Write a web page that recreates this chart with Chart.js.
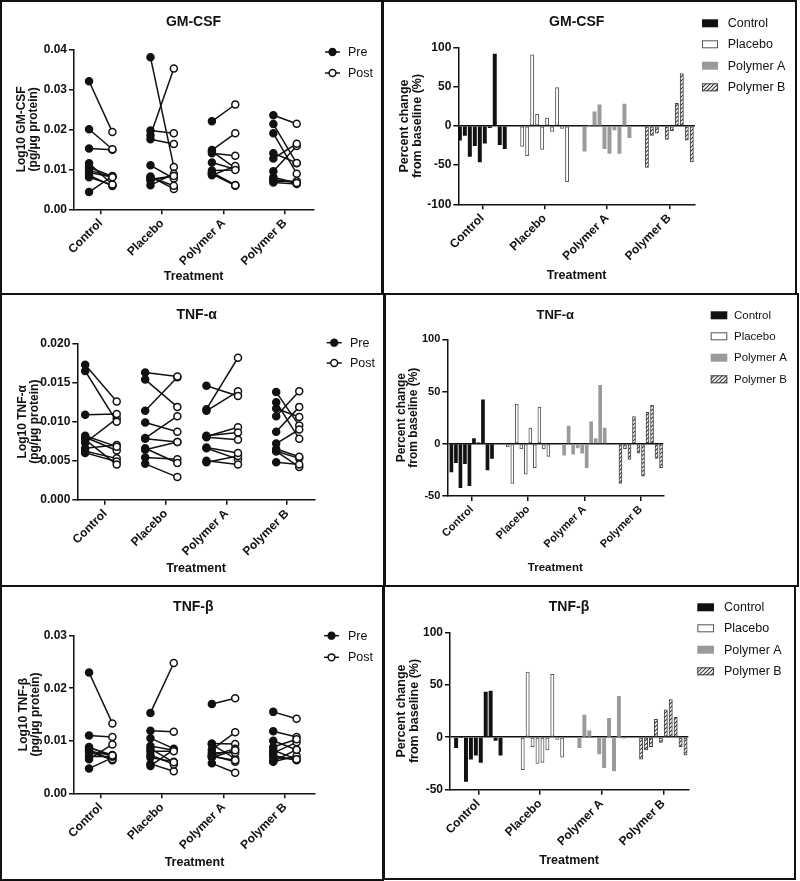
<!DOCTYPE html>
<html><head><meta charset="utf-8">
<script src="https://cdn.jsdelivr.net/npm/chart.js@4.4.1/dist/chart.umd.min.js"></script>
<style>
html,body{margin:0;padding:0;background:#fff;}
#wrap{position:relative;width:800px;height:881px;overflow:hidden;background:#fff;}
.box{position:absolute;border:2px solid #111;box-sizing:border-box;pointer-events:none;}
</style></head><body><div id="wrap"></div>
<script>
// ---------------- DATA ----------------
const categories = ['Control', 'Placebo', 'Polymer A', 'Polymer B'];
const seriesLine = ['Pre', 'Post'];

// GM-CSF (Log10 pg/µg protein), one row per treatment group
const gmcsfPre = [
  [0.0098, 0.0092, 0.0320, 0.0200, 0.0115, 0.0105, 0.0152, 0.0043, 0.0080, 0.0085],
  [0.0080, 0.0082, 0.0185, 0.0072, 0.0110, 0.0075, 0.0175, 0.0060, 0.0197, 0.0380],
  [0.0088, 0.0097, 0.0220, 0.0085, 0.0145, 0.0092, 0.0140, 0.0090, 0.0148, 0.0117],
  [0.0190, 0.0075, 0.0235, 0.0070, 0.0140, 0.0067, 0.0127, 0.0095, 0.0080, 0.0213]
];
const gmcsfPost = [
  [0.0080, 0.0081, 0.0193, 0.0150, 0.0062, 0.0082, 0.0149, 0.0083, 0.0061, 0.0058],
  [0.0059, 0.0051, 0.0352, 0.0083, 0.0077, 0.0083, 0.0163, 0.0089, 0.0190, 0.0106],
  [0.0060, 0.0098, 0.0262, 0.0108, 0.0103, 0.0061, 0.0134, 0.0059, 0.0190, 0.0100],
  [0.0089, 0.0066, 0.0214, 0.0070, 0.0116, 0.0063, 0.0164, 0.0158, 0.0066, 0.0115]
];
const gmcsfChange = [
  [-18, -12, -39, -25, -46, -22, -2, 92, -24, -29],
  [-26, -38, 91, 15, -30, 10, -7, 49, -3, -71],
  [-32, 1, 18, 27, -29, -35, -5, -35, 28, -15],
  [-53, -12, -9, 0, -17, -6, 29, 67, -18, -46]
];

// TNF-alpha
const tnfaPre = [
  [0.0173, 0.0082, 0.0077, 0.0060, 0.0165, 0.0066, 0.0109, 0.0073, 0.0080, 0.0062],
  [0.0163, 0.0046, 0.0114, 0.0078, 0.0066, 0.0064, 0.0154, 0.0079, 0.0054, 0.0099],
  [0.0067, 0.0048, 0.0050, 0.0080, 0.0146, 0.0066, 0.0114, 0.0082, 0.0116, 0.0081],
  [0.0125, 0.0048, 0.0065, 0.0072, 0.0117, 0.0138, 0.0107, 0.0087, 0.0062, 0.0062]
];
const tnfaPost = [
  [0.0126, 0.0068, 0.0045, 0.0049, 0.0100, 0.0070, 0.0110, 0.0104, 0.0063, 0.0053],
  [0.0158, 0.0029, 0.0157, 0.0074, 0.0047, 0.0074, 0.0119, 0.0107, 0.0052, 0.0087],
  [0.0060, 0.0056, 0.0045, 0.0077, 0.0133, 0.0052, 0.0139, 0.0086, 0.0182, 0.0093],
  [0.0078, 0.0045, 0.0055, 0.0090, 0.0106, 0.0095, 0.0139, 0.0119, 0.0053, 0.0042]
];
const tnfaChange = [
  [-27, -18, -42, -19, -40, 5, 1, 42, -25, -14],
  [-3, -38, 38, -5, -29, 15, -23, 35, -5, -12],
  [-11, 17, -10, -4, -9, -23, 21, 5, 56, 15],
  [-38, -5, -15, 26, -9, -31, 30, 37, -14, -23]
];

// TNF-beta
const tnfbPre = [
  [0.0080, 0.0070, 0.0230, 0.0088, 0.0078, 0.0083, 0.0065, 0.0047, 0.0110, 0.0087],
  [0.0080, 0.0085, 0.0153, 0.0090, 0.0073, 0.0056, 0.0068, 0.0052, 0.0119, 0.0105],
  [0.0070, 0.0068, 0.0170, 0.0077, 0.0072, 0.0093, 0.0072, 0.0057, 0.0083, 0.0095],
  [0.0082, 0.0072, 0.0155, 0.0088, 0.0068, 0.0077, 0.0061, 0.0060, 0.0118, 0.0100]
];
const tnfbPost = [
  [0.0072, 0.0070, 0.0133, 0.0070, 0.0065, 0.0063, 0.0093, 0.0068, 0.0107, 0.0073],
  [0.0080, 0.0059, 0.0248, 0.0082, 0.0055, 0.0042, 0.0060, 0.0083, 0.0117, 0.0085],
  [0.0063, 0.0082, 0.0181, 0.0077, 0.0060, 0.0066, 0.0085, 0.0039, 0.0116, 0.0094],
  [0.0065, 0.0063, 0.0142, 0.0103, 0.0065, 0.0097, 0.0083, 0.0071, 0.0107, 0.0083]
];
const tnfbChange = [
  [-10, 0, -42, -21, -17, -24, 43, 44, -3, -17],
  [0, -31, 62, -9, -25, -24, -12, 60, -2, -19],
  [-10, 21, 6, 0, -16, -29, 18, -32, 39, -1],
  [-21, -12, -9, 17, -5, 26, 36, 19, -9, -17]
];

// tick values / labels
const gmcsfTicks = [0, 0.01, 0.02, 0.03, 0.04];
const gmcsfTickLabels = ['0.00', '0.01', '0.02', '0.03', '0.04'];
const tnfaTicks = [0, 0.005, 0.010, 0.015, 0.020];
const tnfaTickLabels = ['0.000', '0.005', '0.010', '0.015', '0.020'];
const tnfbTicks = [0, 0.01, 0.02, 0.03];
const tnfbTickLabels = ['0.00', '0.01', '0.02', '0.03'];
const pctTicksWide = [-100, -50, 0, 50, 100];
const pctTicks = [-50, 0, 50, 100];

// ---------------- RENDERING ----------------
const FONT = '"Liberation Sans", Arial, Helvetica, sans-serif';
Chart.defaults.font.family = FONT;
Chart.defaults.color = '#111';
const INK = '#111';
const wrap = document.getElementById('wrap');

function makeCanvas(box) {
  const cv = document.createElement('canvas');
  cv.width = box.w; cv.height = box.h;
  cv.style.cssText = 'position:absolute;left:' + box.x + 'px;top:' + box.y + 'px;width:' + box.w + 'px;height:' + box.h + 'px;';
  wrap.appendChild(cv);
  return cv;
}
function makeHatch(ctx) {
  const c = document.createElement('canvas'); c.width = 4; c.height = 4;
  const g = c.getContext('2d');
  g.fillStyle = '#fff'; g.fillRect(0, 0, 4, 4);
  g.strokeStyle = '#333'; g.lineWidth = 1.1;
  g.beginPath();
  g.moveTo(0, 4); g.lineTo(4, 0);
  g.moveTo(-1, 1); g.lineTo(1, -1);
  g.moveTo(3, 5); g.lineTo(5, 3);
  g.stroke();
  return ctx.createPattern(c, 'repeat');
}

function geometry(c, tickFontSize, xTitleSize, yTitleSize) {
  const yLH = yTitleSize;            // lineHeight 1.0
  const xLH = xTitleSize;
  const padLeft = (c.yTitleX - c.box.x) - yLH / 2;
  const padTop = c.area.top - c.box.y;
  const padRight = c.box.x + c.box.w - c.area.right;
  const padBottom = (c.box.y + c.box.h) - (c.xTitleY + xLH / 2);
  const yW = (c.area.left - c.box.x) - padLeft;
  const xH = (c.box.y + c.box.h - padBottom) - c.area.bottom;
  return { padding: { left: padLeft, top: padTop, right: padRight, bottom: padBottom }, yW, xH };
}

function overlayPlugin(c, barStyles) {
  return {
    id: 'overlay' + Math.random().toString(36).slice(2),
    afterDraw(chart) {
      const ctx = chart.ctx, ox = c.box.x, oy = c.box.y;
      ctx.save();
      ctx.fillStyle = INK;
      ctx.font = 'bold ' + c.titleSize + 'px ' + FONT;
      ctx.textAlign = 'center'; ctx.textBaseline = 'middle';
      ctx.fillText(c.title, c.titleX - ox, c.titleY - oy);
      ctx.font = c.legendSize + 'px ' + FONT;
      ctx.textAlign = 'left';
      c.legendItems.forEach((txt, k) => {
        const y = c.legendRows[k] - oy;
        if (c.kind === 'line') {
          ctx.strokeStyle = INK; ctx.lineWidth = 1.5;
          ctx.beginPath(); ctx.moveTo(c.legX0 - ox, y); ctx.lineTo(c.legX1 - ox, y); ctx.stroke();
          ctx.beginPath(); ctx.arc((c.legX0 + c.legX1) / 2 - ox, y, 3.4, 0, Math.PI * 2);
          ctx.fillStyle = k === 0 ? INK : '#fff'; ctx.fill(); ctx.stroke();
        } else {
          const st = barStyles[k];
          const x0 = c.legX0 - ox, w = c.legX1 - c.legX0, h = 8;
          ctx.fillStyle = st.bg;
          ctx.fillRect(x0, y - h / 2, w, h);
          if (st.bw > 0) {
            ctx.strokeStyle = st.bc; ctx.lineWidth = 1;
            ctx.strokeRect(x0 + 0.5, y - h / 2 + 0.5, w - 1, h - 1);
          }
        }
        ctx.fillStyle = INK;
        ctx.fillText(txt, c.legTextX - ox, y + 0.5);
      });
      ctx.restore();
    }
  };
}

function axisCommon(c, geo, fonts) {
  return {
    x: {
      type: 'linear', min: c.xmin, max: c.xmax, offset: false,
      afterBuildTicks: s => { s.ticks = categories.map((_, i) => ({ value: i + 1 })); },
      afterFit: s => { s.height = geo.xH; },
      ticks: {
        autoSkip: false, minRotation: 45, maxRotation: 45, padding: 2, color: INK,
        font: { size: fonts.tick, weight: 'bold' },
        callback: v => categories[Math.round(v) - 1]
      },
      grid: { offset: false, drawOnChartArea: false, drawTicks: true, tickLength: 5, color: INK, lineWidth: 1.5 },
      border: { display: true, color: INK, width: 1.5 },
      title: { display: true, text: 'Treatment', color: INK, padding: 0, font: { size: fonts.xTitle, weight: 'bold', lineHeight: 1.0 } }
    },
    y: {
      type: 'linear', min: c.ymin, max: c.ymax,
      afterBuildTicks: s => { s.ticks = c.yTicks.map(v => ({ value: v })); },
      afterFit: s => { s.width = geo.yW; },
      ticks: {
        autoSkip: false, padding: 2, color: INK,
        font: { size: fonts.tick, weight: 'bold' },
        callback: (v, i) => c.yTickLabels[i]
      },
      grid: {
        drawOnChartArea: !!c.zeroLine, drawTicks: true, tickLength: 5, lineWidth: 1.5, tickColor: INK,
        color: ctx => (c.zeroLine && ctx.tick && ctx.tick.value === 0) ? INK : 'rgba(0,0,0,0)'
      },
      border: { display: true, color: INK, width: 1.5 },
      title: { display: true, text: c.yTitle, color: INK, padding: 0, font: { size: fonts.yTitle, weight: 'bold', lineHeight: 1.0 } }
    }
  };
}

function linePanel(c) {
  const fonts = { tick: 12, xTitle: 12.5, yTitle: 12 };
  const geo = geometry(c, fonts.tick, fonts.xTitle, fonts.yTitle);
  const cv = makeCanvas(c.box);
  const datasets = [];
  categories.forEach((cat, g) => {
    c.pre[g].forEach((v, i) => {
      datasets.push({
        label: cat + ' ' + (i + 1),
        data: [{ x: g + 1 + c.preOff[g], y: v }, { x: g + 1 + c.postOff[g], y: c.post[g][i] }],
        borderColor: INK, borderWidth: 1.5, showLine: true, fill: false,
        pointRadius: 3.5, pointBorderWidth: 1.5, pointBorderColor: INK,
        pointBackgroundColor: [INK, '#fff']
      });
    });
  });
  c.kind = 'line';
  c.legendItems = seriesLine;
  new Chart(cv, {
    type: 'line',
    data: { datasets },
    options: {
      responsive: false, animation: false, devicePixelRatio: 1,
      layout: { padding: geo.padding, autoPadding: false },
      plugins: { legend: { display: false }, tooltip: { enabled: false }, title: { display: false } },
      scales: axisCommon(c, geo, fonts)
    },
    plugins: [overlayPlugin(c, null)]
  });
}

function barPanel(c) {
  const fonts = c.fonts;
  const geo = geometry(c, fonts.tick, fonts.xTitle, fonts.yTitle);
  const cv = makeCanvas(c.box);
  const hatch = makeHatch(cv.getContext('2d'));
  const styles = [
    { bg: '#111', bc: '#111', bw: 0 },
    { bg: '#fff', bc: '#555', bw: 1 },
    { bg: '#9a9a9a', bc: '#9a9a9a', bw: 0 },
    { bg: hatch, bc: '#444', bw: 1 }
  ];
  const step = 0.08;
  const datasets = categories.map((cat, g) => ({
    label: cat,
    data: c.change[g].map((v, i) => ({ x: g + 1 + (i - 4.5) * step, y: v })),
    backgroundColor: styles[g].bg, borderColor: styles[g].bc, borderWidth: styles[g].bw,
    borderSkipped: false, barThickness: c.barW, grouped: false
  }));
  c.kind = 'bar';
  c.legendItems = categories;
  c.zeroLine = true;
  new Chart(cv, {
    type: 'bar',
    data: { datasets },
    options: {
      responsive: false, animation: false, devicePixelRatio: 1,
      layout: { padding: geo.padding, autoPadding: false },
      plugins: { legend: { display: false }, tooltip: { enabled: false }, title: { display: false } },
      scales: axisCommon(c, geo, fonts)
    },
    plugins: [overlayPlugin(c, styles)]
  });
}

// ---- Left panels (pre/post) ----
linePanel({
  box: { x: 0, y: 0, w: 382, h: 294 },
  area: { left: 74, top: 49.3, right: 313.3, bottom: 209.3 },
  yTitleX: 21.7, xTitleY: 276.7,
  title: 'GM-CSF', titleX: 193.5, titleY: 22, titleSize: 14,
  legX0: 325, legX1: 340, legTextX: 348, legendRows: [52, 73], legendSize: 12.5,
  ymin: 0, ymax: 0.04, yTicks: gmcsfTicks, yTickLabels: gmcsfTickLabels,
  yTitle: ['Log10 GM-CSF', '(pg/µg protein)'],
  xmin: 0.565, xmax: 4.46,
  preOff: [-0.19, -0.19, -0.19, -0.19], postOff: [0.19, 0.19, 0.19, 0.19],
  pre: gmcsfPre, post: gmcsfPost
});
linePanel({
  box: { x: 0, y: 294, w: 384, h: 292 },
  area: { left: 77.3, top: 343.7, right: 315, bottom: 499.7 },
  yTitleX: 23, xTitleY: 568.7,
  title: 'TNF-α', titleX: 196.7, titleY: 315.3, titleSize: 14,
  legX0: 326.7, legX1: 341.7, legTextX: 350, legendRows: [342.7, 363], legendSize: 12.5,
  ymin: 0, ymax: 0.02, yTicks: tnfaTicks, yTickLabels: tnfaTickLabels,
  yTitle: ['Log10 TNF-α', '(pg/µg protein)'],
  xmin: 0.54, xmax: 4.46,
  preOff: [-0.33, -0.34, -0.33, -0.18], postOff: [0.19, 0.19, 0.19, 0.2],
  pre: tnfaPre, post: tnfaPost
});
linePanel({
  box: { x: 0, y: 586, w: 382, h: 295 },
  area: { left: 74, top: 635.7, right: 315, bottom: 793.3 },
  yTitleX: 23.3, xTitleY: 862.3,
  title: 'TNF-β', titleX: 193.3, titleY: 606.7, titleSize: 14,
  legX0: 324, legX1: 339, legTextX: 348, legendRows: [635.7, 657.3], legendSize: 12.5,
  ymin: 0, ymax: 0.03, yTicks: tnfbTicks, yTickLabels: tnfbTickLabels,
  yTitle: ['Log10 TNF-β', '(pg/µg protein)'],
  xmin: 0.565, xmax: 4.49,
  preOff: [-0.19, -0.19, -0.19, -0.19], postOff: [0.19, 0.19, 0.19, 0.19],
  pre: tnfbPre, post: tnfbPost
});

// ---- Right panels (percent change) ----
barPanel({
  box: { x: 382, y: 0, w: 418, h: 294 },
  area: { left: 458.3, top: 47.7, right: 695, bottom: 204.3 },
  yTitleX: 405, xTitleY: 276,
  title: 'GM-CSF', titleX: 576.7, titleY: 22, titleSize: 14,
  legX0: 702, legX1: 718, legTextX: 727.7, legendRows: [23.3, 44.3, 65.7, 87.3], legendSize: 12.5,
  ymin: -100, ymax: 100, yTicks: pctTicksWide, yTickLabels: pctTicksWide.map(String),
  yTitle: ['Percent change', 'from baseline (%)'],
  xmin: 0.615, xmax: 4.412, barW: 3.3,
  fonts: { tick: 12, xTitle: 12.5, yTitle: 12.5 },
  change: gmcsfChange
});
barPanel({
  box: { x: 384, y: 294, w: 416, h: 292 },
  area: { left: 447.3, top: 339.3, right: 663.3, bottom: 496 },
  yTitleX: 401.7, xTitleY: 568,
  title: 'TNF-α', titleX: 555.3, titleY: 315.3, titleSize: 13,
  legX0: 710.7, legX1: 727.3, legTextX: 734, legendRows: [315.3, 336.3, 357.7, 379.3], legendSize: 11.5,
  ymin: -50, ymax: 100, yTicks: pctTicks, yTickLabels: pctTicks.map(String),
  yTitle: ['Percent change', 'from baseline (%)'],
  xmin: 0.567, xmax: 4.40, barW: 3.0,
  fonts: { tick: 11, xTitle: 11.5, yTitle: 12 },
  change: tnfaChange
});
barPanel({
  box: { x: 384, y: 586, w: 416, h: 295 },
  area: { left: 450, top: 632.3, right: 688.3, bottom: 789.7 },
  yTitleX: 401.7, xTitleY: 860.7,
  title: 'TNF-β', titleX: 569, titleY: 607.3, titleSize: 14,
  legX0: 697.3, legX1: 714, legTextX: 724, legendRows: [607.3, 628.3, 649.7, 671.3], legendSize: 12.5,
  ymin: -50, ymax: 100, yTicks: pctTicks, yTickLabels: pctTicks.map(String),
  yTitle: ['Percent change', 'from baseline (%)'],
  xmin: 0.541, xmax: 4.405, barW: 3.3,
  fonts: { tick: 12, xTitle: 12.5, yTitle: 12.5 },
  change: tnfbChange
});

// ---- Panel frames ----
[
  [0, 0, 384, 295], [381, 0, 416, 295],
  [0, 293, 386, 294], [383, 293, 416, 294],
  [0, 585, 384, 296], [383, 585, 413, 295]
].forEach(([x, y, w, h]) => {
  const d = document.createElement('div');
  d.className = 'box';
  d.style.left = x + 'px'; d.style.top = y + 'px'; d.style.width = w + 'px'; d.style.height = h + 'px';
  wrap.appendChild(d);
});
</script>
</body></html>
